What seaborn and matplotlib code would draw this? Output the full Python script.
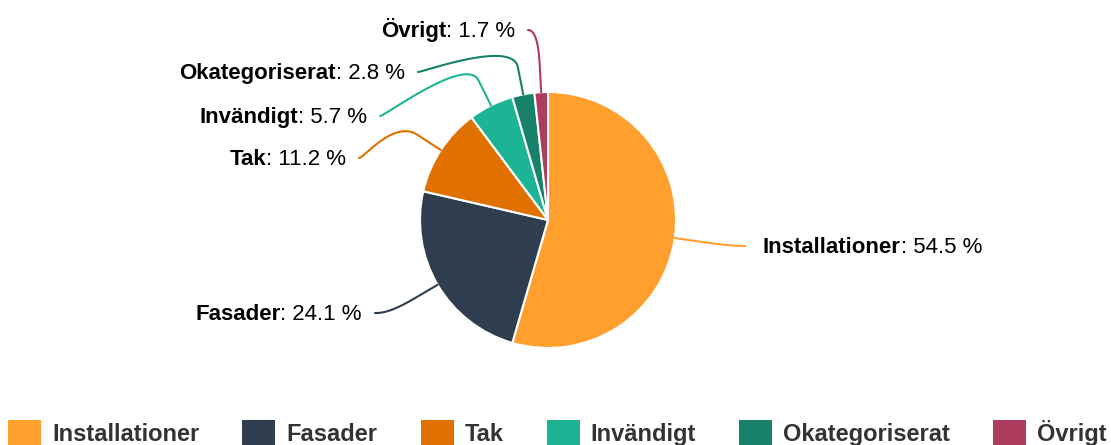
import numpy as np
import matplotlib.pyplot as plt
from matplotlib.patches import Patch
import seaborn as sns

categories = ["Installationer", "Fasader", "Tak", "Invändigt", "Okategoriserat", "Övrigt"]
shares = [54.5, 24.1, 11.2, 5.7, 2.8, 1.7]
colors = ["#ff9f2e", "#2e3e4f", "#e07000", "#1cb494", "#178169", "#ad3c5e"]

# where each connector ends (image pixels) and which side of it the text sits
label_ends = [(745, 246), (375, 313), (359, 158), (380, 116), (418, 72), (528, 30)]
label_side = ["right", "left", "left", "left", "left", "left"]

W, H = 1111, 445

sns.set_theme(style="white")
plt.rcParams["font.family"] = ["Liberation Sans", "DejaVu Sans"]

fig = plt.figure(figsize=(W / 100, H / 100), dpi=100)
ax = fig.add_axes([0, 0, 1, 1])

cx, cy, r = 548, H - 220, 128
wedges, _ = ax.pie(shares, colors=sns.color_palette(colors), startangle=90, counterclock=False,
                   center=(cx, cy), radius=r,
                   wedgeprops=dict(edgecolor="white", linewidth=1.5))
ax.set_xlim(0, W)
ax.set_ylim(0, H)
ax.set_aspect("equal")
ax.axis("off")


def bezier(p0, p1, p2, p3, n=50):
    t = np.linspace(0, 1, n)[:, None]
    return (1 - t) ** 3 * p0 + 3 * (1 - t) ** 2 * t * p1 + 3 * (1 - t) * t ** 2 * p2 + t ** 3 * p3


renderer = fig.canvas.get_renderer()
inv = ax.transData.inverted()

for w, name, val, col, (lx, ly), side in zip(wedges, categories, shares, colors, label_ends, label_side):
    mid = np.deg2rad((w.theta1 + w.theta2) / 2)
    u = np.array([np.cos(mid), np.sin(mid)])
    c = np.array([cx, cy])
    touch = c + r * u
    brk = c + (r + 28) * u
    p0 = np.array([lx, H - ly], dtype=float)
    p1 = p0 + np.array([-5 if side == "right" else 5, 0])
    pts = np.vstack([bezier(p0, p1, 2 * brk - touch, brk), touch])
    ax.plot(pts[:, 0], pts[:, 1], color=col, lw=1.5)

    base = H - (ly + 7)
    val_txt = f": {val} %"
    if side == "left":
        t1 = ax.text(lx - 13, base, val_txt, ha="right", va="baseline", fontsize=16, color="black")
        x0 = inv.transform((t1.get_window_extent(renderer).x0, 0))[0]
        ax.text(x0, base, name, ha="right", va="baseline", fontsize=16, fontweight="bold", color="black")
    else:
        t1 = ax.text(lx + 18, base, name, ha="left", va="baseline", fontsize=16, fontweight="bold", color="black")
        x1 = inv.transform((t1.get_window_extent(renderer).x1, 0))[0]
        ax.text(x1, base, val_txt, ha="left", va="baseline", fontsize=16, color="black")

handles = [Patch(facecolor=c, edgecolor="none") for c in colors]
fig.legend(handles, categories, ncol=6, loc="upper left", bbox_to_anchor=(8 / W, 1 - 420 / H),
           frameon=False, prop={"weight": "bold", "size": 17}, labelcolor="#333333",
           handlelength=1.4, handleheight=1.4, handletextpad=0.47, columnspacing=1.82,
           borderpad=0, borderaxespad=0)

fig.savefig("out.png", dpi=100)
